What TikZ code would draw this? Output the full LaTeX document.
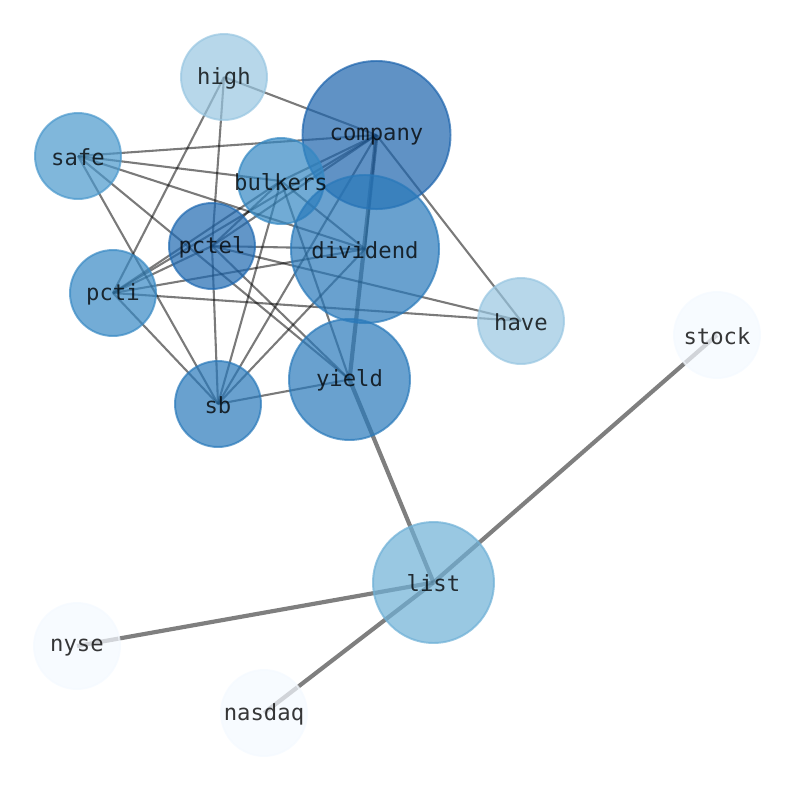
\documentclass[tikz,border=0pt]{standalone}
\usepackage{fontspec}
\newfontfamily\labfont{DejaVu Sans Mono}
\definecolor{cCompany}{HTML}{1D64AD}
\definecolor{cPctel}{HTML}{1F69B1}
\definecolor{cDiv}{HTML}{2979BA}
\definecolor{cYield}{HTML}{2979BA}
\definecolor{cSb}{HTML}{2979BA}
\definecolor{cBulk}{HTML}{3488C3}
\definecolor{cPcti}{HTML}{3889C4}
\definecolor{cSafe}{HTML}{4A98CC}
\definecolor{cList}{HTML}{6EB0D6}
\definecolor{cHigh}{HTML}{98C6E1}
\definecolor{cPale}{HTML}{F4F9FF}
\tikzset{
  edgethin/.style={draw=black, draw opacity=0.52, line width=1.5pt},
  edgethick/.style={draw=black, draw opacity=0.5, line width=3pt},
  nodecirc/.style={circle, inner sep=0pt, outer sep=0pt, fill=#1, draw=#1, fill opacity=0.7, draw opacity=0.7, line width=1.4pt},
  smallc/.style={minimum size=61.9pt},
  midc/.style={minimum size=87.1pt},
  bigc/.style={minimum size=106.6pt},
  lab/.style={inner sep=0pt, yshift=-0.8pt, font=\labfont\fontsize{16}{19}\selectfont, text=black, text opacity=0.78}
}
\begin{document}
\begin{tikzpicture}[x=0.72pt, y=-0.72pt]
\useasboundingbox (0,0) rectangle (794,790);
% node positions
\coordinate (high) at (224,77);
\coordinate (company) at (376.5,135);
\coordinate (safe) at (78,156);
\coordinate (bulkers) at (281,181);
\coordinate (dividend) at (365,249);
\coordinate (pctel) at (212,246);
\coordinate (pcti) at (113,293);
\coordinate (have) at (521,321);
\coordinate (stock) at (717,335);
\coordinate (yield) at (349.5,379.5);
\coordinate (sb) at (218,404);
\coordinate (list) at (433.5,582.5);
\coordinate (nyse) at (77,646);
\coordinate (nasdaq) at (264,713);
% edges
\draw[edgethin] (high) -- (company);
\draw[edgethin] (high) -- (pcti);
\draw[edgethin] (high) -- (pctel);
\draw[edgethin] (safe) -- (company);
\draw[edgethin] (safe) -- (bulkers);
\draw[edgethin] (safe) -- (dividend);
\draw[edgethin] (safe) -- (yield);
\draw[edgethin] (safe) -- (sb);
\draw[edgethin] (company) -- (bulkers);
\draw[edgethin] (company) -- (pctel);
\draw[edgethin] (company) -- (pcti);
\draw[edgethin] (company) -- (sb);
\draw[edgethin] (company) -- (have);
\draw[edgethin] (company) -- (dividend);
\draw[edgethin] (bulkers) -- (pcti);
\draw[edgethin] (bulkers) -- (pctel);
\draw[edgethin] (bulkers) -- (sb);
\draw[edgethin] (bulkers) -- (yield);
\draw[edgethin] (bulkers) -- (dividend);
\draw[edgethin] (pctel) -- (dividend);
\draw[edgethin] (pctel) -- (have);
\draw[edgethin] (pctel) -- (yield);
\draw[edgethin] (pctel) -- (sb);
\draw[edgethin] (pctel) -- (pcti);
\draw[edgethin] (pcti) -- (dividend);
\draw[edgethin] (pcti) -- (have);
\draw[edgethin] (pcti) -- (sb);
\draw[edgethin] (dividend) -- (sb);
\draw[edgethin] (sb) -- (yield);
\draw[edgethick] (company) -- (yield);
\draw[edgethick] (yield) -- (list);
\draw[edgethick] (list) -- (stock);
\draw[edgethick] (list) -- (nyse);
\draw[edgethick] (list) -- (nasdaq);
% node discs
\node[nodecirc=cHigh, smallc] (highc) at (high) {};
\node[nodecirc=cCompany, bigc] (companyc) at (company) {};
\node[nodecirc=cSafe, smallc] (safec) at (safe) {};
\node[nodecirc=cBulk, smallc] (bulkersc) at (bulkers) {};
\node[nodecirc=cDiv, bigc] (dividendc) at (dividend) {};
\node[nodecirc=cPctel, smallc] (pctelc) at (pctel) {};
\node[nodecirc=cPcti, smallc] (pctic) at (pcti) {};
\node[nodecirc=cHigh, smallc] (havec) at (have) {};
\node[nodecirc=cPale, smallc] (stockc) at (stock) {};
\node[nodecirc=cYield, midc] (yieldc) at (yield) {};
\node[nodecirc=cSb, smallc] (sbc) at (sb) {};
\node[nodecirc=cList, midc] (listc) at (list) {};
\node[nodecirc=cPale, smallc] (nysec) at (nyse) {};
\node[nodecirc=cPale, smallc] (nasdaqc) at (nasdaq) {};
% labels
\node[lab] (highl) at (high) {high};
\node[lab] (companyl) at (company) {company};
\node[lab] (safel) at (safe) {safe};
\node[lab] (bulkersl) at (bulkers) {bulkers};
\node[lab] (dividendl) at (dividend) {dividend};
\node[lab] (pctell) at (pctel) {pctel};
\node[lab] (pctil) at (pcti) {pcti};
\node[lab] (havel) at (have) {have};
\node[lab] (stockl) at (stock) {stock};
\node[lab] (yieldl) at (yield) {yield};
\node[lab] (sbl) at (sb) {sb};
\node[lab] (listl) at (list) {list};
\node[lab] (nysel) at (nyse) {nyse};
\node[lab] (nasdaql) at (nasdaq) {nasdaq};
\end{tikzpicture}
\end{document}
